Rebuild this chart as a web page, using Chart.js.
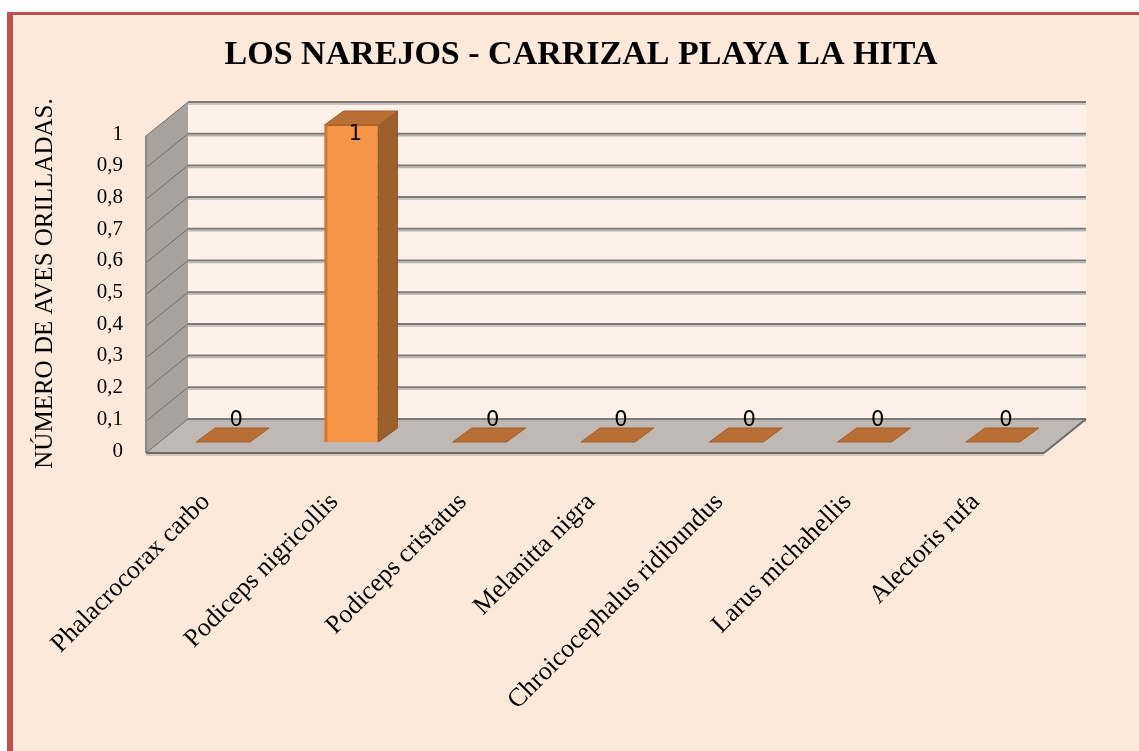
<!DOCTYPE html>
<html>

<head>
    <meta charset="UTF-8">
    <title>Los Narejos - Carrizal Playa La Hita</title>
    <script src="https://cdn.jsdelivr.net/npm/chart.js@4.4.1/dist/chart.umd.min.js"></script>
    <style>
        html, body { margin: 0; padding: 0; background: #ffffff; overflow: hidden; }
        #frame { position: absolute; left: 7px; top: 12px; width: 1200px; height: 800px;
                 background: #FDE9D9; border-left: 6px solid #C0504D; border-top: 3px solid #C0504D; }
        #wrap { position: absolute; left: 0; top: 0; width: 1139px; height: 751px; }
    </style>
</head>

<body>
    <div id="frame"></div>
    <div id="wrap"><canvas id="chart" width="1139" height="751"></canvas></div>
    <script>
        const chartTitle = 'LOS NAREJOS - CARRIZAL PLAYA LA HITA';
        const yAxisTitle = 'NÚMERO DE AVES ORILLADAS.';
        const species = ['Phalacrocorax carbo', 'Podiceps nigricollis', 'Podiceps cristatus', 'Melanitta nigra',
            'Chroicocephalus ridibundus', 'Larus michahellis', 'Alectoris rufa'];
        const birdCounts = [0, 1, 0, 0, 0, 0, 0];

        // fake 3d: offsets from the bar plane (the chart area) to front / back planes
        const FRONT = { dx: -13, dy: 11 };
        const BACK = { dx: 29, dy: -23 };
        const BAR_DEPTH = { dx: 19, dy: -14 };

        function poly(ctx, pts, fill, stroke, lw) {
            ctx.beginPath();
            ctx.moveTo(pts[0][0], pts[0][1]);
            for (let i = 1; i < pts.length; i++) ctx.lineTo(pts[i][0], pts[i][1]);
            ctx.closePath();
            if (fill) { ctx.fillStyle = fill; ctx.fill(); }
            if (stroke) { ctx.strokeStyle = stroke; ctx.lineWidth = lw || 1; ctx.stroke(); }
        }

        function line(ctx, x1, y1, x2, y2, color, lw) {
            ctx.beginPath();
            ctx.moveTo(x1, y1);
            ctx.lineTo(x2, y2);
            ctx.strokeStyle = color;
            ctx.lineWidth = lw;
            ctx.stroke();
        }

        const walls3d = {
            id: 'walls3d',
            beforeDatasetsDraw(chart) {
                const { ctx, chartArea: ca, scales: { y } } = chart;
                const y0 = y.getPixelForValue(0), y1 = y.getPixelForValue(1);
                const fl = ca.left + FRONT.dx, fr = ca.right + FRONT.dx;
                const bl = ca.left + BACK.dx, br = ca.right + BACK.dx;
                ctx.save();
                // back wall
                ctx.fillStyle = '#FEF1EA';
                ctx.fillRect(bl, y1 + BACK.dy, br - bl, y0 - y1);
                // side wall
                poly(ctx, [[fl, y1 + FRONT.dy], [bl, y1 + BACK.dy], [bl, y0 + BACK.dy], [fl, y0 + FRONT.dy]], '#A8A29F');
                // floor
                poly(ctx, [[fl, y0 + FRONT.dy], [bl, y0 + BACK.dy], [br, y0 + BACK.dy], [fr, y0 + FRONT.dy]], '#C0B8B4');
                // gridlines on back wall + side wall
                y.ticks.forEach(t => {
                    const py = y.getPixelForValue(t.value);
                    line(ctx, bl, py + BACK.dy + 2, br, py + BACK.dy + 2, '#BDB5B0', 1.5);
                    line(ctx, bl, py + BACK.dy, br, py + BACK.dy, '#7A7A7A', 2);
                    line(ctx, bl, py + BACK.dy, fl, py + FRONT.dy, '#6F6B69', 1);
                });
                // edges
                line(ctx, fl, y0 + FRONT.dy + 2, fr, y0 + FRONT.dy + 2, '#D9C6B8', 2);
                line(ctx, fl, y0 + FRONT.dy, fr, y0 + FRONT.dy, '#6B6B6B', 2);
                line(ctx, fr, y0 + FRONT.dy, br, y0 + BACK.dy, '#6B6B6B', 2);
                line(ctx, fl, y1 + FRONT.dy, fl, y0 + FRONT.dy, '#8A8583', 2);
                ctx.restore();
            },
            afterDatasetsDraw(chart) {
                const { ctx, chartArea: ca } = chart;
                const meta = chart.getDatasetMeta(0);
                ctx.save();
                meta.data.forEach((bar, i) => {
                    const { x, y, base, width } = bar.getProps(['x', 'y', 'base', 'width'], true);
                    const l = x - width / 2, r = x + width / 2;
                    if (base - y > 0.5) {
                        line(ctx, l + 1.5, y, l + 1.5, base, '#D07A35', 3);
                        poly(ctx, [[r, y], [r + BAR_DEPTH.dx, y + BAR_DEPTH.dy], [r + BAR_DEPTH.dx, base + BAR_DEPTH.dy], [r, base]],
                            '#9E602B', '#8A5224', 1);
                    }
                    poly(ctx, [[l, y], [l + BAR_DEPTH.dx, y + BAR_DEPTH.dy], [r + BAR_DEPTH.dx, y + BAR_DEPTH.dy], [r, y]],
                        '#B96F32', '#A0602A', 1);
                    // value label
                    let lx = x + 13, ly = y - 21;
                    if (ly < ca.top + 10) { lx = x + 4; ly = ca.top + 10; }
                    ctx.font = '21px "DejaVu Sans"';
                    ctx.fillStyle = '#000000';
                    ctx.textAlign = 'center';
                    ctx.textBaseline = 'middle';
                    ctx.fillText(String(birdCounts[i]), lx, ly);
                });
                ctx.restore();
            },
            afterDraw(chart) {
                const ctx = chart.ctx;
                ctx.save();
                ctx.font = 'bold 34px "Liberation Serif"';
                ctx.fillStyle = '#000000';
                ctx.textAlign = 'center';
                ctx.textBaseline = 'middle';
                ctx.fillText(chartTitle, 581, 55);
                ctx.restore();
            }
        };

        const ctx = document.getElementById('chart').getContext('2d');
        const chart = new Chart(ctx, {
            type: 'bar',
            data: {
                labels: species,
                datasets: [{
                    data: birdCounts,
                    backgroundColor: '#F79646',
                    borderColor: '#B5692C',
                    borderWidth: 1,
                    barPercentage: 0.42,
                    categoryPercentage: 1
                }]
            },
            options: {
                responsive: false,
                animation: false,
                layout: { padding: { top: 125, left: 20, right: 82, bottom: 0 } },
                plugins: {
                    legend: { display: false },
                    tooltip: { enabled: false }
                },
                scales: {
                    x: {
                        grid: { display: false, drawTicks: false },
                        border: { display: false },
                        ticks: {
                            color: '#000000',
                            font: { family: 'Liberation Serif', size: 26 },
                            minRotation: 45,
                            maxRotation: 45,
                            autoSkip: false,
                            padding: 45,
                            labelOffset: -17
                        },
                        afterFit(scale) { scale.height = 309; }
                    },
                    y: {
                        min: 0,
                        max: 1,
                        grid: { display: false, drawTicks: false, tickLength: 0 },
                        border: { display: false },
                        ticks: {
                            stepSize: 0.1,
                            color: '#000000',
                            font: { family: 'Liberation Serif', size: 21 },
                            padding: 36,
                            labelOffset: 9,
                            callback: v => (v === 0 || v === 1) ? String(v) : v.toFixed(1).replace('.', ',')
                        },
                        title: {
                            display: true,
                            text: yAxisTitle,
                            color: '#000000',
                            font: { family: 'Liberation Serif', size: 25 },
                            padding: { top: 10, bottom: 0 }
                        },
                        afterFit(scale) { scale.width = 139; }
                    }
                }
            },
            plugins: [walls3d]
        });
    </script>
</body>

</html>
